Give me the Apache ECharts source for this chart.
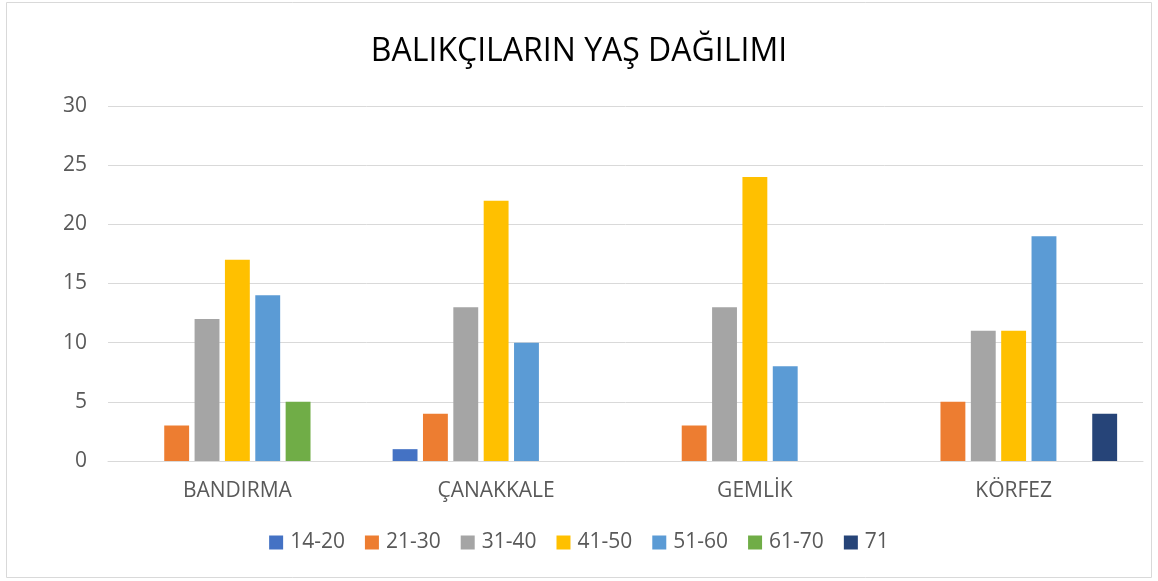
<!DOCTYPE html>
<html><head><meta charset="utf-8">
<script src="https://cdn.jsdelivr.net/npm/echarts@6/dist/echarts.min.js"></script>
<style>html,body{margin:0;padding:0;background:#fff}#c{width:1158px;height:581px}</style>
</head><body><div id="c"></div>
<script>
const categories = ['BANDIRMA', 'ÇANAKKALE', 'GEMLİK', 'KÖRFEZ'];
const seriesNames = ['14-20', '21-30', '31-40', '41-50', '51-60', '61-70', '71'];
const s14_20 = [0, 1, 0, 0];
const s21_30 = [3, 4, 3, 5];
const s31_40 = [12, 13, 13, 11];
const s41_50 = [17, 22, 24, 11];
const s51_60 = [14, 10, 8, 19];
const s61_70 = [5, 0, 0, 0];
const s71 = [0, 0, 0, 4];
const values = [s14_20, s21_30, s31_40, s41_50, s51_60, s61_70, s71];
const colors = ['#4472C4', '#ED7D31', '#A5A5A5', '#FFC000', '#5B9BD5', '#70AD47', '#264478'];

const chart = echarts.init(document.getElementById('c'));
const font = '"Open Sans", sans-serif';
chart.setOption({
  animation: false,
  color: colors,
  textStyle: { fontFamily: font },
  graphic: [{ type: 'rect', shape: { x: 6.5, y: 2.5, width: 1145, height: 575 }, style: { fill: 'none', stroke: '#d9d9d9', lineWidth: 1 }, silent: true }],
  title: { text: 'BALIKÇILARIN YAŞ DAĞILIMI', left: 'center', top: 31, textStyle: { fontFamily: font, fontSize: 32, fontWeight: 'normal', color: '#000' } },
  legend: { top: 527, left: 'center', itemWidth: 14, itemHeight: 14, itemGap: 20, icon: 'rect', textStyle: { fontFamily: font, fontSize: 21, color: '#595959', padding: [0, 0, 0, 2] }, data: seriesNames },
  grid: { left: 108, right: 15, top: 106, bottom: 120, containLabel: false },
  xAxis: { type: 'category', data: categories, axisLine: { lineStyle: { color: '#d9d9d9' } }, axisTick: { show: false }, axisLabel: { fontFamily: font, fontSize: 21, color: '#595959', margin: 20 } },
  yAxis: { type: 'value', min: 0, max: 30, interval: 5, axisLine: { show: false }, axisTick: { show: false }, splitLine: { lineStyle: { color: '#d9d9d9' } }, axisLabel: { fontFamily: font, fontSize: 21, color: '#595959', margin: 21 } },
  series: seriesNames.map((n, i) => ({ name: n, type: 'bar', data: values[i], barGap: '22%', barCategoryGap: '20%' }))
});
</script></body></html>
